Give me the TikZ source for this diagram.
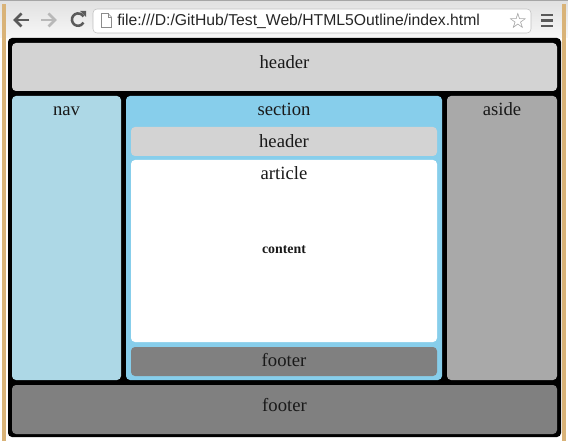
\documentclass[tikz,border=0pt]{standalone}
\usepackage{fontspec}
\usepackage{xcolor}
\setmainfont{Liberation Serif}
\newfontfamily\uifont{Liberation Sans}
\newfontfamily\symfont{DejaVu Sans}
\usetikzlibrary{fit,calc,arrows.meta}

\definecolor{hdrgray}{HTML}{D3D3D3}
\definecolor{navblue}{HTML}{ADD8E6}
\definecolor{secblue}{HTML}{87CEEB}
\definecolor{asidegray}{HTML}{A9A9A9}
\definecolor{footgray}{HTML}{808080}
\definecolor{frametan}{HTML}{D9B378}
\definecolor{icondark}{HTML}{5A5A5A}
\definecolor{iconlight}{HTML}{B8B8B8}

\begin{document}
\begin{tikzpicture}[x=0.75pt,y=0.75pt,yscale=-1,xscale=1,
    box/.style={rounded corners=3pt, inner sep=0pt, outer sep=0pt},
    lbl/.style={anchor=base, inner sep=0.75pt, text=black!90, font=\fontsize{14}{16}\selectfont},
    icon/.style={line width=1.9pt, draw=icondark}]
        \useasboundingbox (0,0) rectangle (568,442);
        
        %Window frame and toolbar
        \fill[top color=black!12, bottom color=black!3] (0,0) rectangle (568,38);
        \fill[frametan] (2,4) rectangle (6,441);
        \fill[frametan] (562,4) rectangle (566,441);
        \fill[white] (6,437) rectangle (562,442);
        \draw[black!35] (0,0.5) -- (568,0.5);
        
        %Back, forward, reload
        \draw[icon] (29,20) -- (15.5,20);
        \draw[icon, line join=miter] (21.5,13.5) -- (15,20) -- (21.5,26.5);
        \draw[icon, draw=iconlight] (41,20) -- (54.5,20);
        \draw[icon, draw=iconlight, line join=miter] (48.5,13.5) -- (55,20) -- (48.5,26.5);
        \draw[icon] (83.5,16.5) arc (-30:-330:6.2);
        \fill[icondark] (80,11) -- (86,11) -- (86,17) -- cycle;
        
        %Address bar
        \node[box, draw=black!25, fill=white, fit={(93,9) (531,33)}] (addr) {};
        \draw[black!45, fill=white] (101.5,13.5) -- (108,13.5) -- (111.5,17) -- (111.5,27.5) -- (101.5,27.5) -- cycle;
        \draw[black!45] (108,13.5) -- (108,17) -- (111.5,17);
        \node[anchor=west, inner sep=0pt, font=\uifont\fontsize{11.8}{13}\selectfont, text=black!85] (url) at (117,21) {file:///D:/GitHub/Test\_Web/HTML5Outline/index.html};
        \node[font=\symfont\fontsize{16}{16}\selectfont, text=black!45, inner sep=0pt] (star) at (518,21) {☆};
        
        %Menu
        \foreach \y in {15,20.5,26}
            \fill[icondark] (541,\y-1.4) rectangle (553,\y+1.4);
        
        %Page body
        \fill[black, rounded corners=3pt] (8,38) rectangle (561,437);
        
        %Boxes
        \node[box, fill=hdrgray, fit={(12,43) (557,91)}] (header) {};
        \node[box, fill=navblue, fit={(12,96) (121,380)}] (nav) {};
        \node[box, fill=secblue, fit={(126,96) (442,380)}] (section) {};
        \node[box, fill=asidegray, fit={(447,96) (557,380)}] (aside) {};
        \node[box, fill=footgray, fit={(12,385) (557,434)}] (footer) {};
        \node[box, fill=hdrgray, fit={(131,127) (437,156)}] (sec-header) {};
        \node[box, fill=white, fit={(131,160) (437,342)}] (article) {};
        \node[box, fill=footgray, fit={(131,347) (437,376)}] (sec-footer) {};
        
        % Text Node
        \node[lbl] (header-t) at ($(header.north)+(0,26)$) {header};
        % Text Node
        \node[lbl] (nav-t) at ($(nav.north)+(0,19.5)$) {nav};
        % Text Node
        \node[lbl] (section-t) at ($(section.north)+(0,19.5)$) {section};
        % Text Node
        \node[lbl] (aside-t) at ($(aside.north)+(0,19.5)$) {aside};
        % Text Node
        \node[lbl] (sec-header-t) at ($(sec-header.north)+(0,20.5)$) {header};
        % Text Node
        \node[lbl] (article-t) at ($(article.north)+(0,19.5)$) {article};
        % Text Node
        \node[lbl, font=\bfseries\fontsize{10.4}{12}\selectfont] (content) at (284,253) {content};
        % Text Node
        \node[lbl] (sec-footer-t) at ($(sec-footer.north)+(0,19.5)$) {footer};
        % Text Node
        \node[lbl] (footer-t) at ($(footer.north)+(0,26)$) {footer};
        
\end{tikzpicture}
\end{document}
